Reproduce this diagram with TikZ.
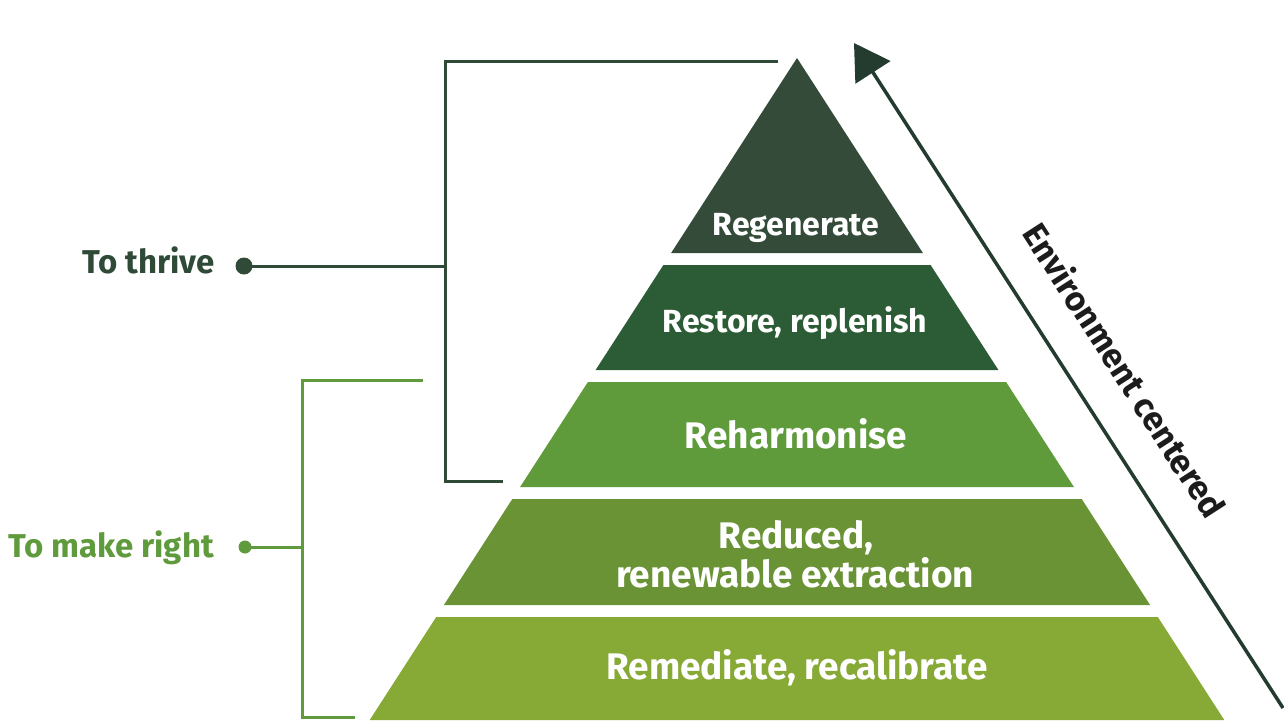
\documentclass[tikz,border=0pt]{standalone}
\usepackage{fontspec}
\setmainfont{Fira Sans}
\usetikzlibrary{arrows.meta}

\definecolor{tierA}{HTML}{344B3A}
\definecolor{tierB}{HTML}{2C5C35}
\definecolor{tierC}{HTML}{5F9A3B}
\definecolor{tierD}{HTML}{6A9335}
\definecolor{tierE}{HTML}{87A935}
\definecolor{darkline}{HTML}{2F4A37}
\definecolor{lightline}{HTML}{5F9B3D}
\definecolor{arrowcol}{HTML}{243C2F}
\definecolor{inkcol}{HTML}{1C1C1C}

\tikzset{
  tiertext/.style={anchor=base, text=white, font=\bfseries\fontsize{#1}{#1}\selectfont, inner sep=0pt},
  tiertext/.default=32,
  sidelabel/.style={anchor=base east, font=\bfseries\fontsize{33}{38}\selectfont, inner sep=0pt},
  bullet/.style={circle, inner sep=0pt, minimum size=#1},
  darkbracket/.style={draw=darkline, line width=3pt},
  lightbracket/.style={draw=lightline, line width=3pt},
}

\begin{document}
\begin{tikzpicture}[x=1pt, y=-1pt]
  \fill[white] (0,0) rectangle (1284,720);
  \useasboundingbox (0,0) rectangle (1284,720);

  % pyramid tiers, apex at (797,58)
  \fill[tierA] (797,58) -- (922.9,253) -- (671.1,253) -- cycle;
  \fill[tierB] (663.4,265) -- (930.6,265) -- (998.4,370) -- (595.6,370) -- cycle;
  \fill[tierC] (587.9,382) -- (1006.1,382) -- (1073.9,487) -- (520.1,487) -- cycle;
  \fill[tierD] (512.3,499) -- (1081.7,499) -- (1150.1,605) -- (443.9,605) -- cycle;
  \fill[tierE] (436.2,617) -- (1157.8,617) -- (1224.3,720) -- (369.7,720) -- cycle;

  % tier captions
  \node[tiertext] (regen) at (796,235) {Regenerate};
  \node[tiertext] (restore) at (795,332) {Restore, replenish};
  \node[tiertext=37] (reharm) at (796,448) {Reharmonise};
  \node[tiertext=37] (reduce) at (796,548) {Reduced,};
  \node[tiertext=37] (renew) at (795,587) {renewable extraction};
  \node[tiertext=37] (remed) at (797,679) {Remediate, recalibrate};

  % "To thrive" group bracket
  \node[sidelabel, text=darkline] (thrive) at (215,273) {To thrive};
  \node[bullet=17pt, fill=darkline] (thriveDot) at (244,266) {};
  \coordinate (thriveTop) at (778,61);
  \coordinate (thriveTopCorner) at (445,61);
  \coordinate (thriveMid) at (445,266);
  \coordinate (thriveBotCorner) at (445,481);
  \coordinate (thriveBot) at (503,481);
  \draw[darkbracket] (thriveTop) -- (thriveTopCorner) -- (thriveBotCorner) -- (thriveBot);
  \draw[darkbracket] (thriveDot.center) -- (thriveMid);

  % "To make right" group bracket
  \node[sidelabel, text=lightline] (makeright) at (214,557) {To make right};
  \node[bullet=13pt, fill=lightline] (rightDot) at (245,547) {};
  \coordinate (rightTop) at (423,380);
  \coordinate (rightTopCorner) at (302,380);
  \coordinate (rightMid) at (302,547);
  \coordinate (rightBotCorner) at (302,717);
  \coordinate (rightBot) at (355,717);
  \draw[lightbracket] (rightTop) -- (rightTopCorner) -- (rightBotCorner) -- (rightBot);
  \draw[lightbracket] (rightDot.center) -- (rightMid);

  % direction arrow along the right flank
  \coordinate (arrowStart) at (1283,708);
  \coordinate (arrowTip) at (854,43);
  \draw[arrowcol, line width=3.5pt, -{Triangle[length=35pt,width=41pt]}] (arrowStart) -- (arrowTip);
  \node[text=inkcol, font=\bfseries\fontsize{34}{38}\selectfont, rotate=-57.17, inner sep=0pt] (envtext) at (1125,370) {Environment centered};
\end{tikzpicture}
\end{document}
